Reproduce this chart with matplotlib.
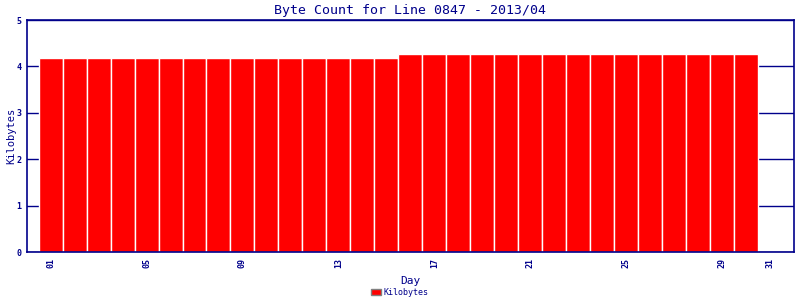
import numpy as np
import matplotlib
matplotlib.use("Agg")
import matplotlib.pyplot as plt

# Data
days = list(range(1, 31))
kilobytes = [4.18] * 15 + [4.27] * 15
tick_days = [1, 5, 9, 13, 17, 21, 25, 29, 31]
tick_labels = ["01", "05", "09", "13", "17", "21", "25", "29", "31"]

navy = "#00008B"
plt.rcParams['font.family'] = ['DejaVu Sans Mono']

fig = plt.figure(figsize=(8, 3), dpi=100)
ax = fig.add_axes([0.0333, 0.16, 0.9592, 0.7733])

ax.set_axisbelow(True)
ax.yaxis.grid(True, color=navy, linewidth=1)
ax.bar(days, kilobytes, width=1.0, color="#FF0000", edgecolor="white",
       linewidth=1, label="Kilobytes")

ax.set_xlim(0, 32)
ax.set_ylim(0, 5)
ax.set_yticks([0, 1, 2, 3, 4, 5])
ax.set_xticks(tick_days)
ax.set_xticklabels(tick_labels, rotation=90)
ax.tick_params(axis='both', colors=navy, labelsize=6, length=0, pad=4)
for lbl in ax.get_xticklabels() + ax.get_yticklabels():
    lbl.set_fontweight('bold')
for s in ax.spines.values():
    s.set_color(navy)
    s.set_linewidth(1.2)

ax.set_title("Byte Count for Line 0847 - 2013/04", color=navy, fontsize=9.5, pad=4)
ax.set_xlabel("Day", color=navy, fontsize=8, labelpad=6)
ax.set_ylabel("Kilobytes", color=navy, fontsize=7.5)
ax.yaxis.set_label_coords(-0.013, 0.5)

leg = fig.legend(loc="lower center", bbox_to_anchor=(0.5, -0.015), frameon=False,
                 fontsize=6, handlelength=1.2, handleheight=0.8, handletextpad=0.3)
for t in leg.get_texts():
    t.set_color(navy)
for h in leg.legend_handles:
    h.set_edgecolor("gray")

fig.savefig("out.png", dpi=100)
